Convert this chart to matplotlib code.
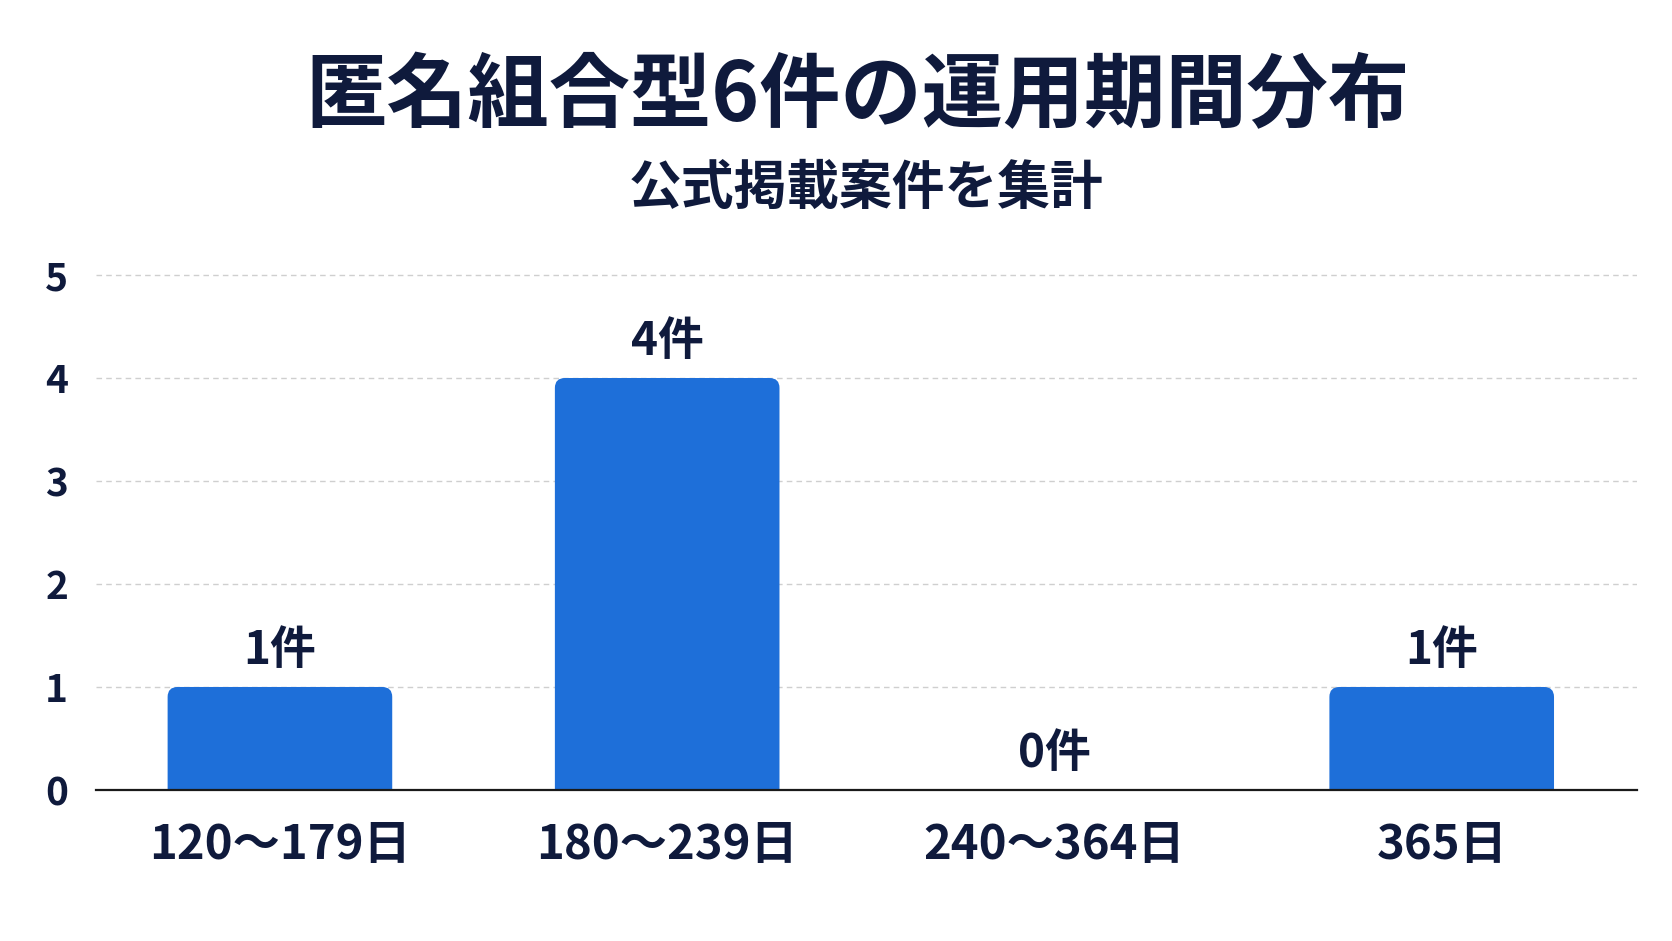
#!/usr/bin/env python3

# Bar chart: distribution of operating periods for 6 tokumei-kumiai funds.

import matplotlib
matplotlib.use('Agg')
import matplotlib.pyplot as plt
from matplotlib.patches import FancyBboxPatch

plt.rcParams['font.family'] = ['Noto Sans CJK JP', 'DejaVu Sans']

periods = ['120〜179日', '180〜239日', '240〜364日', '365日']
counts = [1, 4, 0, 1]
y_ticks = [0, 1, 2, 3, 4, 5]

title = '匿名組合型6件の運用期間分布'
subtitle = '公式掲載案件を集計'

NAVY = '#0f1a3c'
BLUE = '#1e6fd9'


def main(output='out.png'):
    fig = plt.figure(figsize=(16.72, 9.41), dpi=100)
    ax = fig.add_axes([0.0574, 0.1605, 0.9216, 0.5582])

    x = list(range(len(periods)))
    bars = ax.bar(x, counts, width=0.58, color=BLUE)

    # swap square bars for ones with rounded tops (bottom gets clipped at 0)
    r = 0.026
    for b in bars:
        bx, bw, bh = b.get_x(), b.get_width(), b.get_height()
        b.set_visible(False)
        if bh <= 0:
            continue
        ax.add_patch(FancyBboxPatch((bx, -0.3), bw, bh + 0.3,
                                    boxstyle=f'round,pad=0,rounding_size={r}',
                                    mutation_aspect=3.7, facecolor=BLUE,
                                    edgecolor='none', zorder=2))

    for xi, c in zip(x, counts):
        ax.annotate(f'{c}件', (xi, c), xytext=(0, 9), textcoords='offset points',
                    ha='center', va='bottom', fontsize=33, fontweight='bold',
                    color=NAVY)

    ax.set_xlim(-0.475, 3.504)
    ax.set_ylim(0, 5.1)
    ax.set_yticks(y_ticks)
    ax.set_xticks(x)
    ax.set_xticklabels(periods)

    ax.grid(True, axis='y', linestyle=(0, (4, 3)), color='#cfcfcf', linewidth=1)
    ax.set_axisbelow(True)

    for s in ('top', 'right', 'left'):
        ax.spines[s].set_visible(False)
    ax.spines['bottom'].set_color('#1a1a1a')
    ax.spines['bottom'].set_linewidth(1.6)
    ax.spines['bottom'].set_zorder(3)

    ax.tick_params(axis='y', length=0, pad=20, labelsize=28, labelcolor=NAVY)
    ax.tick_params(axis='x', length=0, pad=22, labelsize=34, labelcolor=NAVY)
    for lab in ax.get_xticklabels() + ax.get_yticklabels():
        lab.set_fontweight('bold')

    fig.text(0.513, 0.897, title, ha='center', va='center', fontsize=58.5,
             fontweight='bold', color=NAVY)
    fig.text(0.518, 0.8, subtitle, ha='center', va='center', fontsize=38,
             fontweight='bold', color=NAVY)

    fig.savefig(output, dpi=100, facecolor='white')


if __name__ == '__main__':
    main()
